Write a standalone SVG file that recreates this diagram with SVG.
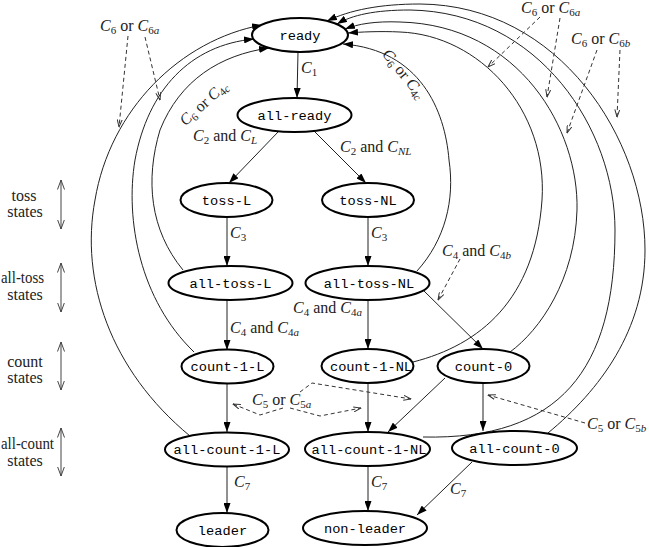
<svg xmlns="http://www.w3.org/2000/svg" width="649" height="547" viewBox="0 0 649 547">
<style>
.node ellipse{fill:#fff;stroke:#000;stroke-width:2}
.node text{font-family:"Liberation Mono",monospace;font-size:13.7px;text-anchor:middle;fill:#000}
.e{stroke:#222;stroke-width:1;fill:none}
.d{stroke:#333;stroke-width:1;fill:none;stroke-dasharray:4,3}
.s{stroke:#444;stroke-width:1;fill:none}
.l{font-family:"Liberation Serif",serif;font-size:16px;fill:#222}
.i{font-style:italic}
.b{font-size:11px}
</style>
<defs>
<marker id="ah" viewBox="0 0 10 7" refX="10" refY="3.5" markerWidth="10" markerHeight="7" markerUnits="userSpaceOnUse" orient="auto"><path d="M0,0 L10,3.5 L0,7 z" fill="#000"/></marker>
<marker id="oh" viewBox="0 0 8 6" refX="7.5" refY="3" markerWidth="8" markerHeight="6" markerUnits="userSpaceOnUse" orient="auto"><path d="M0,0.5 L7.5,3 L0,5.5" fill="none" stroke="#333" stroke-width="1"/></marker>
<marker id="sv" viewBox="0 0 10 8" refX="9.5" refY="4" markerWidth="10" markerHeight="8" markerUnits="userSpaceOnUse" orient="auto-start-reverse"><path d="M0,0.5 L9.5,4 L0,7.5" fill="none" stroke="#444" stroke-width="1"/></marker>
</defs>
<g id="connectors">
<path class="e" marker-end="url(#ah)" d="M298,52 L297,98"/>
<path class="e" marker-end="url(#ah)" d="M279,131 L229,183"/>
<path class="e" marker-end="url(#ah)" d="M314,131 L366,183"/>
<path class="e" marker-end="url(#ah)" d="M227,217 L227,266"/>
<path class="e" marker-end="url(#ah)" d="M368,217 L368,266"/>
<path class="e" marker-end="url(#ah)" d="M227,300 L227,350"/>
<path class="e" marker-end="url(#ah)" d="M368,300 L368,349"/>
<path class="e" marker-end="url(#ah)" d="M424,291 L483,349"/>
<path class="e" marker-end="url(#ah)" d="M227,383 L227,432"/>
<path class="e" marker-end="url(#ah)" d="M368,383 L368,432"/>
<path class="e" marker-end="url(#ah)" d="M445,378 L388,432"/>
<path class="e" marker-end="url(#ah)" d="M483,383 L483,431"/>
<path class="e" marker-end="url(#ah)" d="M227,466 L227,513"/>
<path class="e" marker-end="url(#ah)" d="M368,466 L368,511"/>
<path class="e" marker-end="url(#ah)" d="M472,462 L417,515"/>
<path class="e" marker-end="url(#ah)" d="M183,270 C150,230 145,180 160,130 C180,80 220,55 269,48"/>
<path class="e" marker-end="url(#ah)" d="M194,352 C140,300 125,220 135,160 C148,90 190,45 254,39"/>
<path class="e" marker-end="url(#ah)" d="M190,436 C110,370 80,280 95,200 C110,110 180,40 262,25"/>
<path class="e" marker-end="url(#ah)" d="M417,271 C445,240 455,200 449,160 C445,110 420,50 343,44"/>
<path class="e" marker-end="url(#ah)" d="M413,362 C480,345 535,300 542,200 C548,110 480,35 400,32 C380,31 360,32 348,33"/>
<path class="e" marker-end="url(#ah)" d="M510,352 C540,330 575,280 577,210 C579,130 520,25 400,22 C375,21 358,24 345,29"/>
<path class="e" marker-end="url(#ah)" d="M423,437 C560,440 615,370 615,230 C615,130 540,12 410,10 C375,10 352,15 337,24"/>
<path class="e" marker-end="url(#ah)" d="M548,433 C600,390 645,330 645,250 C645,140 560,5 420,4 C380,4 350,10 327,21"/>
<path class="d" marker-end="url(#oh)" d="M128,36 L119,127"/>
<path class="d" marker-end="url(#oh)" d="M145,37 L160,100"/>
<path class="d" marker-end="url(#oh)" d="M540,17 L488,67"/>
<path class="d" marker-end="url(#oh)" d="M560,18 L547,97"/>
<path class="d" marker-end="url(#oh)" d="M597,50 L567,133"/>
<path class="d" marker-end="url(#oh)" d="M620,50 L617,117"/>
<path class="d" marker-end="url(#oh)" d="M460,259 L438,300"/>
<path class="d" marker-end="url(#oh)" d="M585,423 L488,395"/>
<path class="d" marker-end="url(#oh)" d="M283,408 L260,415 L233,404"/>
<path class="d" marker-end="url(#oh)" d="M300,392 L312,383 L411,399"/>
<path class="d" marker-end="url(#oh)" d="M290,408 L320,416 L361,408"/>
<path class="s" marker-start="url(#sv)" marker-end="url(#sv)" d="M61,180 L61,229"/>
<path class="s" marker-start="url(#sv)" marker-end="url(#sv)" d="M61,263 L61,312"/>
<path class="s" marker-start="url(#sv)" marker-end="url(#sv)" d="M61,342 L61,390"/>
<path class="s" marker-start="url(#sv)" marker-end="url(#sv)" d="M61,428 L61,476"/>
</g>
<g id="labels">
<text class="l" x="301" y="73"><tspan class="i">C</tspan><tspan class="b" dy="3">1</tspan></text>
<text class="l" x="193" y="141"><tspan class="i">C</tspan><tspan class="b" dy="3">2</tspan><tspan dy="-3"> and </tspan><tspan class="i">C</tspan><tspan class="b i" dy="3">L</tspan></text>
<text class="l" x="340" y="152"><tspan class="i">C</tspan><tspan class="b" dy="3">2</tspan><tspan dy="-3"> and </tspan><tspan class="i">C</tspan><tspan class="b i" dy="3">NL</tspan></text>
<text class="l" x="230" y="238"><tspan class="i">C</tspan><tspan class="b" dy="3">3</tspan></text>
<text class="l" x="371" y="238"><tspan class="i">C</tspan><tspan class="b" dy="3">3</tspan></text>
<text class="l" x="230" y="333"><tspan class="i">C</tspan><tspan class="b" dy="3">4</tspan><tspan dy="-3"> and </tspan><tspan class="i">C</tspan><tspan class="b" dy="3">4<tspan class="i">a</tspan></tspan></text>
<text class="l" x="293" y="313"><tspan class="i">C</tspan><tspan class="b" dy="3">4</tspan><tspan dy="-3"> and </tspan><tspan class="i">C</tspan><tspan class="b" dy="3">4<tspan class="i">a</tspan></tspan></text>
<text class="l" x="442" y="256"><tspan class="i">C</tspan><tspan class="b" dy="3">4</tspan><tspan dy="-3"> and </tspan><tspan class="i">C</tspan><tspan class="b" dy="3">4<tspan class="i">b</tspan></tspan></text>
<text class="l" x="252" y="405"><tspan class="i">C</tspan><tspan class="b" dy="3">5</tspan><tspan dy="-3"> or </tspan><tspan class="i">C</tspan><tspan class="b" dy="3">5<tspan class="i">a</tspan></tspan></text>
<text class="l" x="587" y="429"><tspan class="i">C</tspan><tspan class="b" dy="3">5</tspan><tspan dy="-3"> or </tspan><tspan class="i">C</tspan><tspan class="b" dy="3">5<tspan class="i">b</tspan></tspan></text>
<text class="l" x="234" y="487"><tspan class="i">C</tspan><tspan class="b" dy="3">7</tspan></text>
<text class="l" x="371" y="487"><tspan class="i">C</tspan><tspan class="b" dy="3">7</tspan></text>
<text class="l" x="450" y="494"><tspan class="i">C</tspan><tspan class="b" dy="3">7</tspan></text>
<text class="l" x="100" y="31"><tspan class="i">C</tspan><tspan class="b" dy="3">6</tspan><tspan dy="-3"> or </tspan><tspan class="i">C</tspan><tspan class="b" dy="3">6<tspan class="i">a</tspan></tspan></text>
<text class="l" x="521" y="13"><tspan class="i">C</tspan><tspan class="b" dy="3">6</tspan><tspan dy="-3"> or </tspan><tspan class="i">C</tspan><tspan class="b" dy="3">6<tspan class="i">a</tspan></tspan></text>
<text class="l" x="571" y="44"><tspan class="i">C</tspan><tspan class="b" dy="3">6</tspan><tspan dy="-3"> or </tspan><tspan class="i">C</tspan><tspan class="b" dy="3">6<tspan class="i">b</tspan></tspan></text>
<text class="l" text-anchor="middle" transform="translate(207,107) rotate(-42)"><tspan class="i">C</tspan><tspan class="b" dy="3">6</tspan><tspan dy="-3"> or </tspan><tspan class="i">C</tspan><tspan class="b" dy="3">4<tspan class="i">c</tspan></tspan></text>
<text class="l" text-anchor="middle" transform="translate(400,77) rotate(51)"><tspan class="i">C</tspan><tspan class="b" dy="3">6</tspan><tspan dy="-3"> or </tspan><tspan class="i">C</tspan><tspan class="b" dy="3">4<tspan class="i">c</tspan></tspan></text>
<text class="l" text-anchor="middle" x="24" y="201">toss</text>
<text class="l" text-anchor="middle" x="25" y="217">states</text>
<text class="l" x="1" y="283" textLength="43" lengthAdjust="spacingAndGlyphs">all-toss</text>
<text class="l" text-anchor="middle" x="25" y="300">states</text>
<text class="l" text-anchor="middle" x="25" y="367">count</text>
<text class="l" text-anchor="middle" x="25" y="383">states</text>
<text class="l" x="1" y="449" textLength="53" lengthAdjust="spacingAndGlyphs">all-count</text>
<text class="l" text-anchor="middle" x="25" y="466">states</text>
</g>
<g id="n-ready" class="node"><ellipse cx="300" cy="35" rx="48" ry="17"/><text x="300" y="39.5">ready</text></g>
<g id="n-all-ready" class="node"><ellipse cx="294.5" cy="115" rx="57" ry="17"/><text x="294.5" y="119.5">all-ready</text></g>
<g id="n-toss-L" class="node"><ellipse cx="226.5" cy="200" rx="46" ry="17"/><text x="226.5" y="204.5">toss-L</text></g>
<g id="n-toss-NL" class="node"><ellipse cx="368" cy="200" rx="46" ry="17"/><text x="368" y="204.5">toss-NL</text></g>
<g id="n-all-toss-L" class="node"><ellipse cx="230.5" cy="283" rx="62" ry="17"/><text x="230.5" y="287.5">all-toss-L</text></g>
<g id="n-all-toss-NL" class="node"><ellipse cx="367.5" cy="283" rx="62" ry="17"/><text x="369" y="287.5">all-toss-NL</text></g>
<g id="n-count-1-L" class="node"><ellipse cx="227.5" cy="366.5" rx="46" ry="17"/><text x="227.5" y="371">count-1-L</text></g>
<g id="n-count-1-NL" class="node"><ellipse cx="367.5" cy="366" rx="46" ry="17"/><text x="371" y="370.5">count-1-NL</text></g>
<g id="n-count-0" class="node"><ellipse cx="483.5" cy="366" rx="46" ry="17"/><text x="483.5" y="370.5">count-0</text></g>
<g id="n-all-count-1-L" class="node"><ellipse cx="227" cy="449.5" rx="62" ry="17"/><text x="227" y="454">all-count-1-L</text></g>
<g id="n-all-count-1-NL" class="node"><ellipse cx="367.5" cy="449" rx="62.5" ry="17"/><text x="369" y="453.5">all-count-1-NL</text></g>
<g id="n-all-count-0" class="node"><ellipse cx="514.5" cy="448" rx="62.5" ry="17"/><text x="514.5" y="452.5">all-count-0</text></g>
<g id="n-leader" class="node"><ellipse cx="222.5" cy="530" rx="46" ry="17"/><text x="222.5" y="534.5">leader</text></g>
<g id="n-non-leader" class="node"><ellipse cx="365" cy="528" rx="62" ry="17"/><text x="365" y="532.5">non-leader</text></g>
</svg>
